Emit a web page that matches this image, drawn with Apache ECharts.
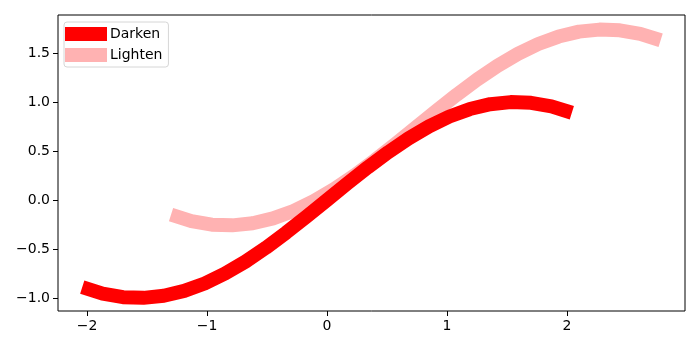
<!DOCTYPE html>
<html>
<head>
<meta charset="utf-8">
<script src="https://cdn.jsdelivr.net/npm/echarts@6/dist/echarts.min.js"></script>
<style>html,body{margin:0;padding:0;background:#fff}#c{width:700px;height:350px}</style>
</head>
<body>
<div id="c"></div>
<script>
const darkenX = [-2.04,-1.87,-1.70,-1.53,-1.36,-1.19,-1.02,-0.85,-0.68,-0.51,-0.34,-0.17,0,0.17,0.34,0.51,0.68,0.85,1.02,1.19,1.36,1.53,1.70,1.87,2.04];
const darkenY = [-0.89,-0.956,-0.992,-0.999,-0.978,-0.928,-0.852,-0.751,-0.629,-0.488,-0.333,-0.169,0,0.169,0.333,0.488,0.629,0.751,0.852,0.928,0.978,0.999,0.992,0.956,0.89];
const lightenX = [-1.30,-1.13,-0.96,-0.79,-0.62,-0.45,-0.28,-0.11,0.06,0.23,0.40,0.57,0.74,0.91,1.08,1.25,1.42,1.59,1.76,1.93,2.10,2.27,2.44,2.61,2.78];
const lightenY = [-0.15,-0.216,-0.252,-0.259,-0.238,-0.188,-0.112,-0.011,0.111,0.252,0.407,0.571,0.74,0.909,1.073,1.228,1.369,1.491,1.592,1.668,1.718,1.739,1.732,1.696,1.63];
const xTicks = [-2,-1,0,1,2];
const yTicks = [-1.0,-0.5,0.0,0.5,1.0,1.5];
const seriesNames = ['Darken','Lighten'];

const pair = (xs, ys) => xs.map((x, i) => [x, ys[i]]);
const minus = s => s.replace('-', '\u2212');
const font = 'DejaVu Sans';

const chart = echarts.init(document.getElementById('c'), null, {renderer: 'canvas'});
chart.setOption({
  animation: false,
  backgroundColor: '#fff',
  grid: {left: 58, right: 15, top: 15, bottom: 39, show: true, borderColor: '#000', borderWidth: 1, backgroundColor: 'transparent'},
  legend: {
    data: seriesNames,
    left: 64, top: 22, orient: 'vertical',
    icon: 'rect', itemWidth: 42, itemHeight: 14, itemGap: 7,
    padding: [5, 6, 5, 1],
    borderColor: '#d6d6d6', borderWidth: 1, borderRadius: 3,
    backgroundColor: 'rgba(255,255,255,0.8)',
    textStyle: {fontFamily: font, fontSize: 14, color: '#000', padding: [0,0,0,-2]}
  },
  xAxis: {
    type: 'value', min: -2.242, max: 2.983,
    axisLine: {show: false, onZero: false},
    splitLine: {show: false},
    axisTick: {show: true, length: 5, customValues: xTicks, lineStyle: {color: '#000'}},
    axisLabel: {customValues: xTicks, margin: 8, color: '#000', fontFamily: font, fontSize: 14,
      formatter: v => minus(String(Math.round(v)))}
  },
  yAxis: {
    type: 'value', min: -1.133, max: 1.888,
    axisLine: {show: false, onZero: false},
    splitLine: {show: false},
    axisTick: {show: true, length: 5, customValues: yTicks, lineStyle: {color: '#000'}},
    axisLabel: {customValues: yTicks, margin: 8, color: '#000', fontFamily: font, fontSize: 14,
      formatter: v => minus(v.toFixed(1))}
  },
  series: [
    {name: 'Darken', type: 'line', z: 3, data: pair(darkenX, darkenY), smooth: false, showSymbol: false,
      color: '#ff0000', lineStyle: {width: 14, color: '#ff0000', cap: 'butt', join: 'round'}},
    {name: 'Lighten', type: 'line', z: 2, data: pair(lightenX, lightenY), smooth: false, showSymbol: false,
      color: '#ffb2b2', lineStyle: {width: 14, color: '#ffb2b2', cap: 'butt', join: 'round'}}
  ]
});
</script>
</body>
</html>
